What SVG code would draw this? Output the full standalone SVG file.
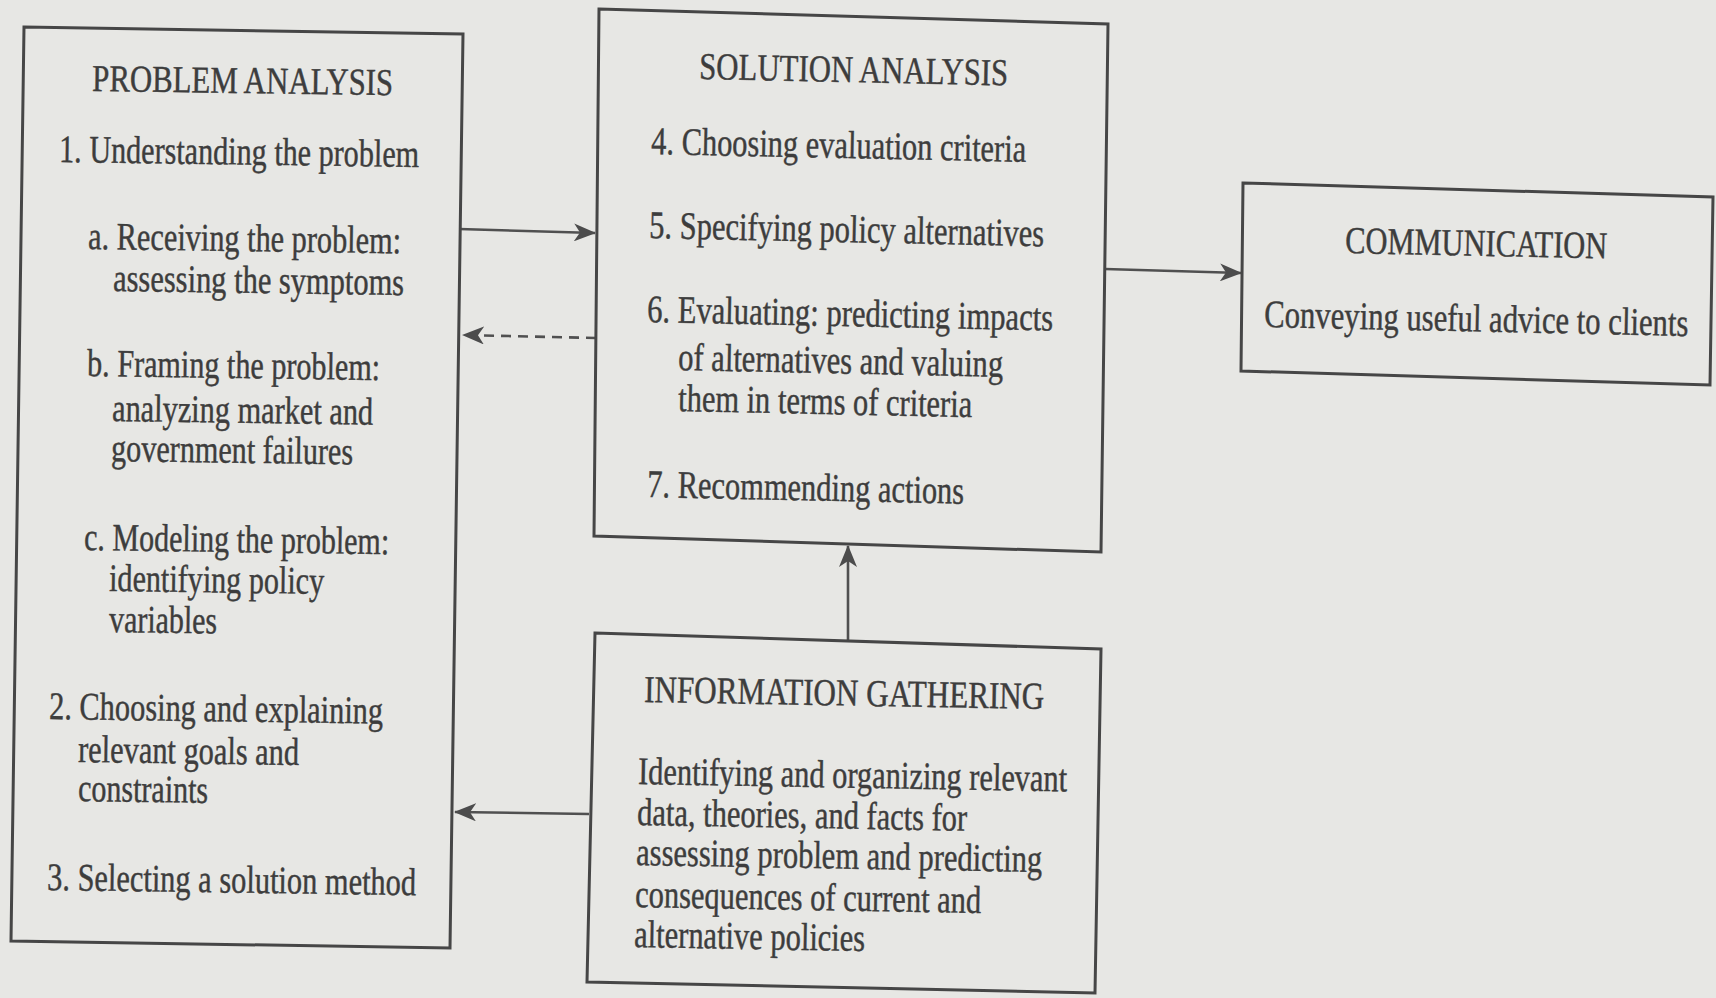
<svg xmlns="http://www.w3.org/2000/svg" width="1716" height="998" viewBox="0 0 1716 998">
<defs>
<style>
.bg { fill: #e7e7e4; }
.box { fill: none; stroke: #464646; stroke-width: 3; stroke-linejoin: miter; }
.t { font-family: "Liberation Serif", "Times New Roman", serif; font-size: 39px; fill: #3d3d3d; stroke: #3d3d3d; stroke-width: 0.45; }
.h { font-size: 38px; }
.c { fill: none; stroke: #505050; stroke-width: 2.6; }
.dash { stroke-dasharray: 10 7; }
</style>
<marker id="ah" viewBox="0 0 22 18" refX="21" refY="9" markerWidth="22" markerHeight="18" markerUnits="userSpaceOnUse" orient="auto">
<path d="M0,0 L22,9 L0,18 L6,9 Z" fill="#4c4c4c"/>
</marker>
</defs>
<rect class="bg" x="0" y="0" width="1716" height="998"/>

<g id="connectors">
<path class="c" d="M459,229 L595,233" marker-end="url(#ah)"/>
<path class="c dash" d="M596,338 L463,335" marker-end="url(#ah)"/>
<path class="c" d="M1105,269 L1241,273" marker-end="url(#ah)"/>
<path class="c" d="M848,640 L848,546" marker-end="url(#ah)"/>
<path class="c" d="M589,814 L455,812" marker-end="url(#ah)"/>
</g>

<g id="problem-analysis">
<polygon class="box" points="24,27 463,34 450,948 11,941"/>
<text class="t h" x="92" y="91" textLength="301" lengthAdjust="spacingAndGlyphs" transform="rotate(0.8 92 91)">PROBLEM ANALYSIS</text>
<text class="t" x="59" y="162" textLength="360" lengthAdjust="spacingAndGlyphs" transform="rotate(0.8 59 162)">1. Understanding the problem</text>
<text class="t" x="88" y="249" textLength="313" lengthAdjust="spacingAndGlyphs" transform="rotate(0.8 88 249)">a. Receiving the problem:</text>
<text class="t" x="113" y="291" textLength="291" lengthAdjust="spacingAndGlyphs" transform="rotate(0.8 113 291)">assessing the symptoms</text>
<text class="t" x="87" y="376" textLength="293" lengthAdjust="spacingAndGlyphs" transform="rotate(0.8 87 376)">b. Framing the problem:</text>
<text class="t" x="112" y="421" textLength="261" lengthAdjust="spacingAndGlyphs" transform="rotate(0.8 112 421)">analyzing market and</text>
<text class="t" x="111" y="461" textLength="242" lengthAdjust="spacingAndGlyphs" transform="rotate(0.8 111 461)">government failures</text>
<text class="t" x="84" y="550" textLength="305" lengthAdjust="spacingAndGlyphs" transform="rotate(0.8 84 550)">c. Modeling the problem:</text>
<text class="t" x="109" y="591" textLength="215" lengthAdjust="spacingAndGlyphs" transform="rotate(0.8 109 591)">identifying policy</text>
<text class="t" x="109" y="632" textLength="108" lengthAdjust="spacingAndGlyphs" transform="rotate(0.8 109 632)">variables</text>
<text class="t" x="49" y="719" textLength="334" lengthAdjust="spacingAndGlyphs" transform="rotate(0.8 49 719)">2. Choosing and explaining</text>
<text class="t" x="78" y="762" textLength="221" lengthAdjust="spacingAndGlyphs" transform="rotate(0.8 78 762)">relevant goals and</text>
<text class="t" x="78" y="801" textLength="130" lengthAdjust="spacingAndGlyphs" transform="rotate(0.8 78 801)">constraints</text>
<text class="t" x="47" y="890" textLength="369" lengthAdjust="spacingAndGlyphs" transform="rotate(0.8 47 890)">3. Selecting a solution method</text>
</g>

<g id="solution-analysis">
<polygon class="box" points="599,9 1108,24 1101,552 594,536"/>
<text class="t h" x="699" y="79" textLength="309" lengthAdjust="spacingAndGlyphs" transform="rotate(1.2 699 79)">SOLUTION ANALYSIS</text>
<text class="t" x="651" y="154" textLength="375" lengthAdjust="spacingAndGlyphs" transform="rotate(1.2 651 154)">4. Choosing evaluation criteria</text>
<text class="t" x="649" y="238" textLength="395" lengthAdjust="spacingAndGlyphs" transform="rotate(1.2 649 238)">5. Specifying policy alternatives</text>
<text class="t" x="647" y="322" textLength="406" lengthAdjust="spacingAndGlyphs" transform="rotate(1.2 647 322)">6. Evaluating: predicting impacts</text>
<text class="t" x="678" y="370" textLength="325" lengthAdjust="spacingAndGlyphs" transform="rotate(1.2 678 370)">of alternatives and valuing</text>
<text class="t" x="678" y="411" textLength="294" lengthAdjust="spacingAndGlyphs" transform="rotate(1.2 678 411)">them in terms of criteria</text>
<text class="t" x="647" y="497" textLength="317" lengthAdjust="spacingAndGlyphs" transform="rotate(1.2 647 497)">7. Recommending actions</text>
</g>

<g id="communication">
<polygon class="box" points="1243,183 1713,197 1710,385 1241,371"/>
<text class="t h" x="1345" y="253" textLength="262" lengthAdjust="spacingAndGlyphs" transform="rotate(1.2 1345 253)">COMMUNICATION</text>
<text class="t" x="0" y="0" textLength="539" lengthAdjust="spacingAndGlyphs" transform="translate(1264 327) rotate(1.2) scale(0.787 1)">Conveying useful advice to clients</text>
</g>

<g id="information-gathering">
<polygon class="box" points="595,633 1101,649 1095,993 587,982"/>
<text class="t h" x="644" y="702" textLength="400" lengthAdjust="spacingAndGlyphs" transform="rotate(1.0 644 702)">INFORMATION GATHERING</text>
<text class="t" x="638" y="784" textLength="429" lengthAdjust="spacingAndGlyphs" transform="rotate(1.0 638 784)">Identifying and organizing relevant</text>
<text class="t" x="637" y="825" textLength="330" lengthAdjust="spacingAndGlyphs" transform="rotate(1.0 637 825)">data, theories, and facts for</text>
<text class="t" x="636" y="865" textLength="406" lengthAdjust="spacingAndGlyphs" transform="rotate(1.0 636 865)">assessing problem and predicting</text>
<text class="t" x="635" y="907" textLength="346" lengthAdjust="spacingAndGlyphs" transform="rotate(1.0 635 907)">consequences of current and</text>
<text class="t" x="634" y="947" textLength="231" lengthAdjust="spacingAndGlyphs" transform="rotate(1.0 634 947)">alternative policies</text>
</g>
</svg>
